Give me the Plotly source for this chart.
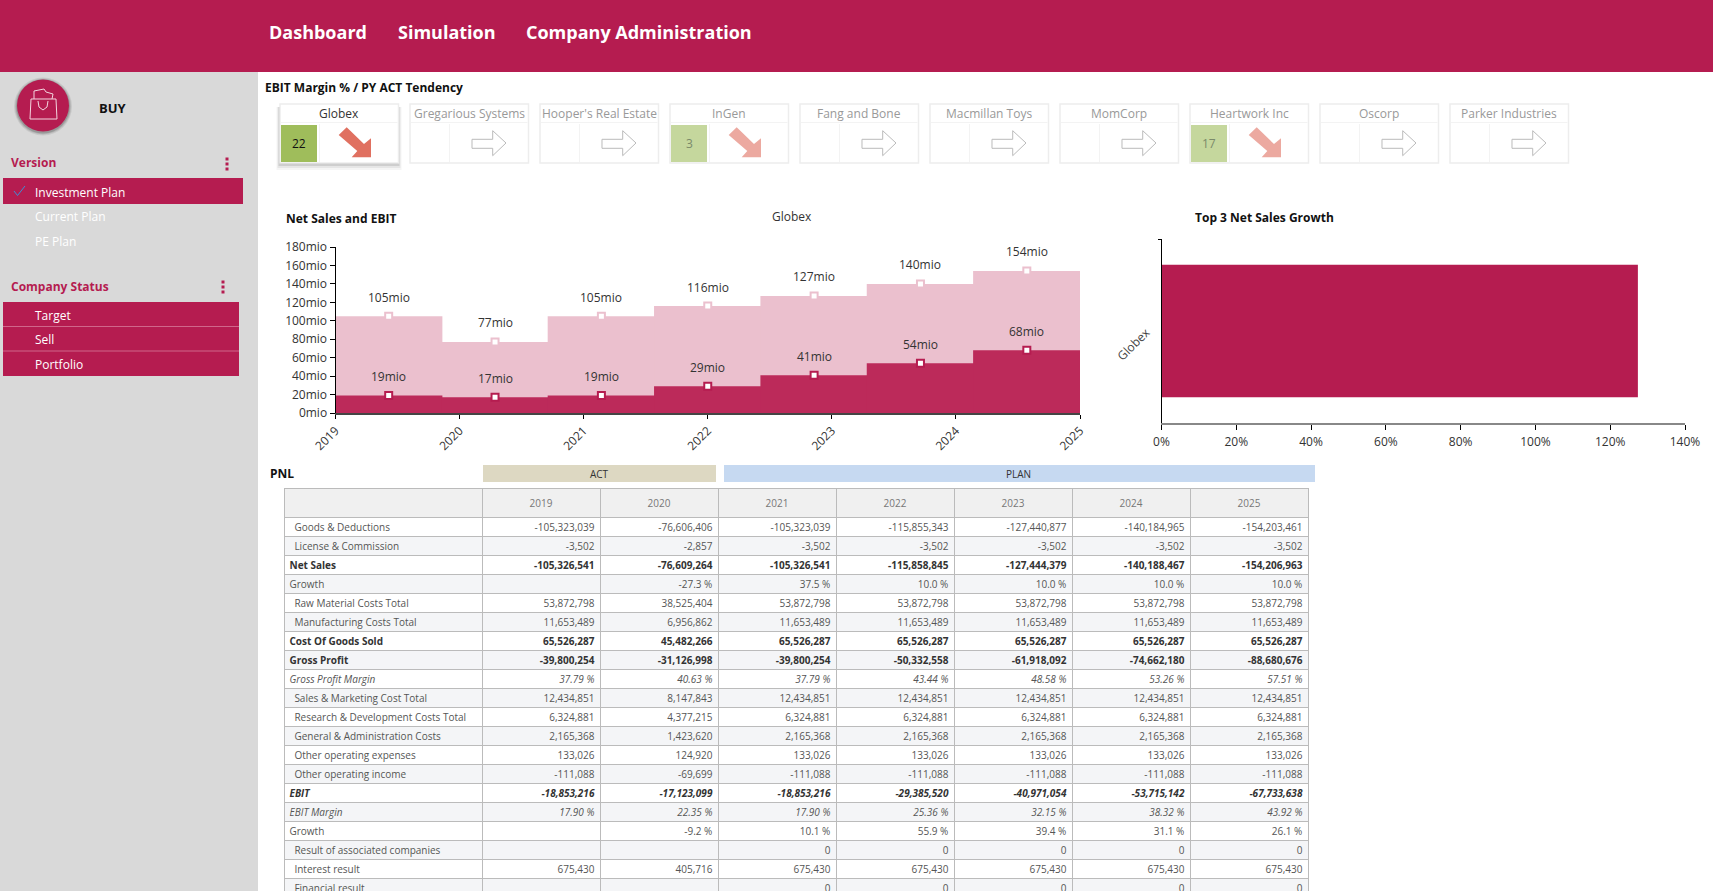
import plotly.graph_objects as go

W = 1713
H = 891
CRIMSON = "#B51C50"
FONT = "Open Sans"

# chart data
years = ["2019", "2020", "2021", "2022", "2023", "2024", "2025"]
net_sales = [105, 77, 105, 116, 127, 140, 154]
ebit = [19, 17, 19, 29, 41, 54, 68]
y_ticks = [0, 20, 40, 60, 80, 100, 120, 140, 160, 180]
y_tick_labels = ["0mio", "20mio", "40mio", "60mio", "80mio", "100mio", "120mio", "140mio", "160mio", "180mio"]

growth_names = ["Globex"]
growth_values = [127.4]
growth_ticks = [0, 20, 40, 60, 80, 100, 120, 140]
growth_tick_labels = ["0%", "20%", "40%", "60%", "80%", "100%", "120%", "140%"]

companies = ["Globex", "Gregarious Systems", "Hooper's Real Estate", "InGen", "Fang and Bone",
             "Macmillan Toys", "MomCorp", "Heartwork Inc", "Oscorp", "Parker Industries"]
margins = [22, None, None, 3, None, None, None, 17, None, None]

pnl_labels = ["Goods & Deductions", "License & Commission", "Net Sales", "Growth",
              "Raw Material Costs Total", "Manufacturing Costs Total", "Cost Of Goods Sold",
              "Gross Profit", "Gross Profit Margin", "Sales & Marketing Cost Total",
              "Research & Development Costs Total", "General & Administration Costs",
              "Other operating expenses", "Other operating income", "EBIT", "EBIT Margin",
              "Growth", "Result of associated companies", "Interest result", "Financial result"]
pnl_kinds = ["item", "item", "bold", "plain", "item", "item", "bold", "bold", "italic", "item",
             "item", "item", "item", "item", "bolditalic", "italic", "plain", "item", "item", "item"]
pnl_values = [
    ["-105,323,039", "-76,606,406", "-105,323,039", "-115,855,343", "-127,440,877", "-140,184,965", "-154,203,461"],
    ["-3,502", "-2,857", "-3,502", "-3,502", "-3,502", "-3,502", "-3,502"],
    ["-105,326,541", "-76,609,264", "-105,326,541", "-115,858,845", "-127,444,379", "-140,188,467", "-154,206,963"],
    ["", "-27.3 %", "37.5 %", "10.0 %", "10.0 %", "10.0 %", "10.0 %"],
    ["53,872,798", "38,525,404", "53,872,798", "53,872,798", "53,872,798", "53,872,798", "53,872,798"],
    ["11,653,489", "6,956,862", "11,653,489", "11,653,489", "11,653,489", "11,653,489", "11,653,489"],
    ["65,526,287", "45,482,266", "65,526,287", "65,526,287", "65,526,287", "65,526,287", "65,526,287"],
    ["-39,800,254", "-31,126,998", "-39,800,254", "-50,332,558", "-61,918,092", "-74,662,180", "-88,680,676"],
    ["37.79 %", "40.63 %", "37.79 %", "43.44 %", "48.58 %", "53.26 %", "57.51 %"],
    ["12,434,851", "8,147,843", "12,434,851", "12,434,851", "12,434,851", "12,434,851", "12,434,851"],
    ["6,324,881", "4,377,215", "6,324,881", "6,324,881", "6,324,881", "6,324,881", "6,324,881"],
    ["2,165,368", "1,423,620", "2,165,368", "2,165,368", "2,165,368", "2,165,368", "2,165,368"],
    ["133,026", "124,920", "133,026", "133,026", "133,026", "133,026", "133,026"],
    ["-111,088", "-69,699", "-111,088", "-111,088", "-111,088", "-111,088", "-111,088"],
    ["-18,853,216", "-17,123,099", "-18,853,216", "-29,385,520", "-40,971,054", "-53,715,142", "-67,733,638"],
    ["17.90 %", "22.35 %", "17.90 %", "25.36 %", "32.15 %", "38.32 %", "43.92 %"],
    ["", "-9.2 %", "10.1 %", "55.9 %", "39.4 %", "31.1 %", "26.1 %"],
    ["", "", "0", "0", "0", "0", "0"],
    ["675,430", "405,716", "675,430", "675,430", "675,430", "675,430", "675,430"],
    ["", "", "0", "0", "0", "0", "0"],
]


def px(x):
    return x / W


def py(y):
    return 1 - y / H


shapes = []
annotations = []


def rect(x0, y0, x1, y1, fill, line=None, width=1, opacity=1):
    shapes.append(dict(type="rect", xref="paper", yref="paper", x0=px(x0), x1=px(x1), y0=py(y1), y1=py(y0),
                       fillcolor=fill, opacity=opacity,
                       line=dict(color=line, width=width) if line else dict(width=0)))


def poly(points, fill=None, line=None, width=1, opacity=1, close=True):
    path = "M" + " L".join(f"{px(a):.5f},{py(b):.5f}" for a, b in points) + (" Z" if close else "")
    shapes.append(dict(type="path", xref="paper", yref="paper", path=path, opacity=opacity,
                       fillcolor=fill if fill else "rgba(0,0,0,0)",
                       line=dict(color=line, width=width) if line else dict(width=0)))


def circle(cx, cy, r, fill, opacity=1):
    shapes.append(dict(type="circle", xref="paper", yref="paper", x0=px(cx - r), x1=px(cx + r),
                       y0=py(cy + r), y1=py(cy - r), fillcolor=fill, opacity=opacity, line=dict(width=0)))


def label(x, y, text, size=12, color="#333333", anchor="left"):
    annotations.append(dict(xref="paper", yref="paper", x=px(x), y=py(y), text=text, showarrow=False,
                            xanchor=anchor, yanchor="middle", borderpad=0,
                            font=dict(family=FONT, size=size, color=color)))


# header and sidebar
rect(0, 0, W, 72, CRIMSON)
rect(0, 72, 258, H, "#D9D9D9")
label(268, 32, "<b>Dashboard</b>", 18, "#FFFFFF")
label(397, 32, "<b>Simulation</b>", 18, "#FFFFFF")
label(525, 32, "<b>Company Administration</b>", 18, "#FFFFFF")

# round icon with a small shopping bag
for grow, alpha in [(3, 0.08), (2, 0.1), (1, 0.15)]:
    circle(43, 106.5, 26 + grow, "#000000", alpha)
circle(43, 105.5, 26, CRIMSON)
poly([(31, 99), (56, 99), (57, 119), (30, 119)], line="#F3D5DF", width=1)
poly([(34, 99), (34, 91), (44, 89), (46, 92), (53, 94), (52, 99)], line="#F3D5DF", width=1, close=False)
poly([(38, 101), (39, 107), (43, 110), (47, 107), (48, 101)], line="#F3D5DF", width=1, close=False)
label(98, 108, "<b>BUY</b>", 13, "#111111")

# side menu
label(10, 163, "<b>Version</b>", 12, CRIMSON)
label(10, 286, "<b>Company Status</b>", 12, CRIMSON)
for dot_x, dot_y in [(227, 164), (223, 287)]:
    for step in (-5, 0, 5):
        rect(dot_x - 1.5, dot_y + step - 1.5, dot_x + 1.5, dot_y + step + 1.5, CRIMSON)
rect(3, 178, 243, 204, CRIMSON)
poly([(14, 191), (17.5, 195.5), (25, 186)], line="#3D8FD6", width=1, close=False)
label(34, 192, "Investment Plan", 12, "#FFFFFF")
label(34, 216, "Current Plan", 12, "#FFFFFF")
label(34, 241, "PE Plan", 12, "#FFFFFF")
rect(3, 302, 239, 376, CRIMSON)
for line_y in (326.5, 351):
    rect(3, line_y - 0.5, 239, line_y + 0.5, "#D0668A")
label(34, 315, "Target", 12, "#FFFFFF")
label(34, 339.5, "Sell", 12, "#FFFFFF")
label(34, 364.5, "Portfolio", 12, "#FFFFFF")

# company cards
label(264, 87, "<b>EBIT Margin % / PY ACT Tendency</b>", 12, "#111111")
down_arrow = [(58.7, 31), (66.7, 23.3), (84, 40), (91, 34.3), (91, 53.3), (71.7, 53.3), (77.3, 47)]
flat_arrow = [(62, 35.3), (82.7, 35.3), (82.7, 26.7), (96, 39), (82.7, 51.7), (82.7, 44.3), (62, 44.3)]
for i, name in enumerate(companies):
    card_x = 280 + 130 * i
    selected = i == 0
    if selected:
        for grow, alpha in [(7, 0.04), (5, 0.06), (3, 0.1), (1, 0.16)]:
            rect(card_x - grow / 2, 104 + 3, card_x + 118 + grow / 2, 163 + grow, "#000000", opacity=alpha)
    rect(card_x, 104, card_x + 118.5, 163, "#FFFFFF", "#EDEDED", 1.5)
    rect(card_x + 1, 122, card_x + 117.5, 123, "#F3F3F3")
    rect(card_x + 39, 124, card_x + 40, 162, "#F3F3F3")
    label(card_x + 59, 113.7, name, 12, "#333333" if selected else "#999999", anchor="center")
    value = margins[i]
    if value is None:
        poly([(card_x + a, 104 + b) for a, b in flat_arrow], fill="#FFFFFF", line="#BBBBBB", width=1)
    else:
        alpha = 1 if selected else 0.6
        rect(card_x + 1, 125, card_x + 37, 162, "#9FBD5B", opacity=alpha)
        label(card_x + 19, 143.5, str(value), 12, "#111111" if selected else "#7A8A6A", anchor="center")
        poly([(card_x + a, 104 + b) for a, b in down_arrow], fill="#E07060", opacity=alpha)

# chart titles
label(285, 218.5, "<b>Net Sales and EBIT</b>", 12, "#111111")
label(792, 216, "Globex", 12, "#333333", anchor="center")
label(1194, 217.5, "<b>Top 3 Net Sales Growth</b>", 12, "#111111")

# PNL bands
label(269, 473, "<b>PNL</b>", 12, "#111111")
rect(483, 465, 716, 482, "#DDD8C2")
rect(724, 465, 1315, 482, "#C6D9F1")
label(599.5, 474.5, "ACT", 10, "#333333", anchor="center")
label(1018, 474.5, "PLAN", 10, "#333333", anchor="center")

fig = go.Figure()

# net sales and ebit steps
fig.add_trace(go.Bar(x=years, y=net_sales, width=1.01, marker=dict(color="#EBC0CE", line=dict(width=0)),
                     xaxis="x", yaxis="y", hoverinfo="skip"))
fig.add_trace(go.Bar(x=years, y=ebit, width=1.01, marker=dict(color="#BC2A5A", line=dict(width=0)),
                     xaxis="x", yaxis="y", hoverinfo="skip"))
fig.add_trace(go.Scatter(x=years, y=net_sales, mode="markers", xaxis="x", yaxis="y",
                         marker=dict(symbol="square", size=7, color="#FFFFFF", line=dict(color="#EBC0CE", width=2))))
fig.add_trace(go.Scatter(x=years, y=ebit, mode="markers", xaxis="x", yaxis="y",
                         marker=dict(symbol="square", size=7, color="#FFFFFF", line=dict(color=CRIMSON, width=2))))
for series in (net_sales, ebit):
    for pos, value in enumerate(series):
        annotations.append(dict(xref="x", yref="y", x=pos, y=value, text=f"{value}mio", showarrow=False,
                                yshift=19, font=dict(family=FONT, size=12, color="#333333")))

# invisible trace only to carry the year tick axis
fig.add_trace(go.Scatter(x=years, y=net_sales, mode="lines", line=dict(width=0), xaxis="x3", yaxis="y",
                         hoverinfo="skip"))

# growth bar
fig.add_trace(go.Bar(x=growth_values, y=growth_names, orientation="h", width=0.72,
                     marker=dict(color=CRIMSON, line=dict(width=0)), xaxis="x2", yaxis="y2", hoverinfo="skip"))

# pnl table built on its own axes, one unit on x is one pixel, one unit on y is one row
col_edges = [0, 198, 316, 434, 552, 670, 788, 906, 1024]
table_left = 284
table_width = 1025
row_px = 19
head = 29 / row_px
half_x = 0.5
half_y = 0.5 / row_px
text_nudge = 2 / row_px
row_edges = [-head] + list(range(len(pnl_labels) + 1))
zebra = [[2] * 8] + [[i % 2] * 8 for i in range(len(pnl_labels))]
fig.add_trace(go.Heatmap(x=col_edges, y=row_edges, z=zebra, zmin=0, zmax=2, showscale=False,
                         colorscale=[[0, "#FFFFFF"], [0.5, "#F4F5F7"], [1, "#F0F0F0"]],
                         xaxis="x4", yaxis="y4", hoverinfo="skip"))

rule_x, rule_y = [], []
for edge in row_edges:
    rule_x += [0, col_edges[-1] + 1, None]
    rule_y += [edge + half_y, edge + half_y, None]
for edge in col_edges:
    rule_x += [edge + half_x, edge + half_x, None]
    rule_y += [row_edges[0], row_edges[-1], None]
fig.add_trace(go.Scatter(x=rule_x, y=rule_y, mode="lines", line=dict(color="#BBBBBB", width=1),
                         xaxis="x4", yaxis="y4", hoverinfo="skip"))

fig.add_trace(go.Scatter(x=[(a + b) / 2 for a, b in zip(col_edges[1:-1], col_edges[2:])],
                         y=[-head / 2 + text_nudge] * 7,
                         text=years, mode="text", textposition="middle center",
                         textfont=dict(family=FONT, size=10, color="#777777"),
                         xaxis="x4", yaxis="y4", hoverinfo="skip"))


def styled(text, kind):
    if text and "bold" in kind:
        text = f"<b>{text}</b>"
    if text and "italic" in kind:
        text = f"<i>{text}</i>"
    return text


kind_colors = {"item": "#555555", "plain": "#555555", "bold": "#333333", "italic": "#555555", "bolditalic": "#333333"}

fig.add_trace(go.Scatter(x=[10.4 if kind == "item" else 5.5 for kind in pnl_kinds],
                         y=[i + 0.5 + text_nudge for i in range(len(pnl_labels))],
                         text=[styled(t, k) for t, k in zip(pnl_labels, pnl_kinds)],
                         mode="text", textposition="middle right",
                         textfont=dict(family=FONT, size=10, color=[kind_colors[k] for k in pnl_kinds]),
                         xaxis="x4", yaxis="y4", hoverinfo="skip"))

cell_x, cell_y, cell_text, cell_color = [], [], [], []
for r, values in enumerate(pnl_values):
    for c, value in enumerate(values):
        cell_x.append(col_edges[c + 2] - 5.6)
        cell_y.append(r + 0.5 + text_nudge)
        cell_text.append(styled(value, pnl_kinds[r]))
        cell_color.append(kind_colors[pnl_kinds[r]])
fig.add_trace(go.Scatter(x=cell_x, y=cell_y, text=cell_text, mode="text", textposition="middle left",
                         textfont=dict(family=FONT, size=10, color=cell_color),
                         xaxis="x4", yaxis="y4", hoverinfo="skip"))

tick_font = dict(family=FONT, size=12, color="#333333")
fig.update_layout(
    width=W,
    height=H,
    margin=dict(l=0, r=0, t=0, b=0, autoexpand=False),
    paper_bgcolor="#FFFFFF",
    plot_bgcolor="rgba(0,0,0,0)",
    showlegend=False,
    barmode="overlay",
    font=dict(family=FONT),
    shapes=shapes,
    annotations=annotations,
    xaxis=dict(domain=[px(335.5), px(1080)], type="category", categoryorder="array", categoryarray=years,
               range=[-0.5, 6.5], showticklabels=False, ticks="", showline=False, showgrid=False, anchor="y"),
    yaxis=dict(domain=[py(413), py(247)], range=[0, 180], tickvals=y_ticks, ticktext=y_tick_labels, ticks="outside",
               ticklen=5, tickcolor="#000000", showline=True, linecolor="#000000", linewidth=1, showgrid=False,
               zeroline=False, tickfont=tick_font, anchor="x"),
    xaxis3=dict(domain=[px(335.5), px(1080)], type="category", categoryorder="array", categoryarray=years,
                range=[0, 6], overlaying="x", anchor="y", side="bottom", ticks="outside", ticklen=4,
                tickcolor="#000000", showline=True, linecolor="#444444", linewidth=2, showgrid=False,
                tickangle=-45, tickfont=tick_font),
    xaxis2=dict(domain=[px(1161.5), px(1685)], range=[0, 140], tickvals=growth_ticks, ticktext=growth_tick_labels,
                ticks="outside", ticklen=5, tickcolor="#000000", showline=True, linecolor="#888888", linewidth=2,
                showgrid=False, zeroline=False, tickfont=tick_font, ticklabelstandoff=2, anchor="y2"),
    yaxis2=dict(domain=[py(423), py(239)], type="category", tickson="boundaries", ticks="outside", ticklen=3,
                tickcolor="#000000", showline=True, linecolor="#000000", linewidth=1, showgrid=False,
                tickangle=-45, tickfont=dict(family=FONT, size=12, color="#444444"), ticklabelstandoff=12,
                anchor="x2"),
    xaxis4=dict(domain=[px(table_left), px(table_left + table_width)], range=[0, table_width], showticklabels=False,
                ticks="", showgrid=False, zeroline=False, anchor="y4"),
    yaxis4=dict(domain=[0, py(488)], range=[(H - 517) / row_px, -head], showticklabels=False,
                ticks="", showgrid=False, zeroline=False, anchor="x4"),
)

fig.write_html("out.html", config={"displayModeBar": False},
               post_script="document.body.style.margin='0';document.body.style.overflow='hidden';")
